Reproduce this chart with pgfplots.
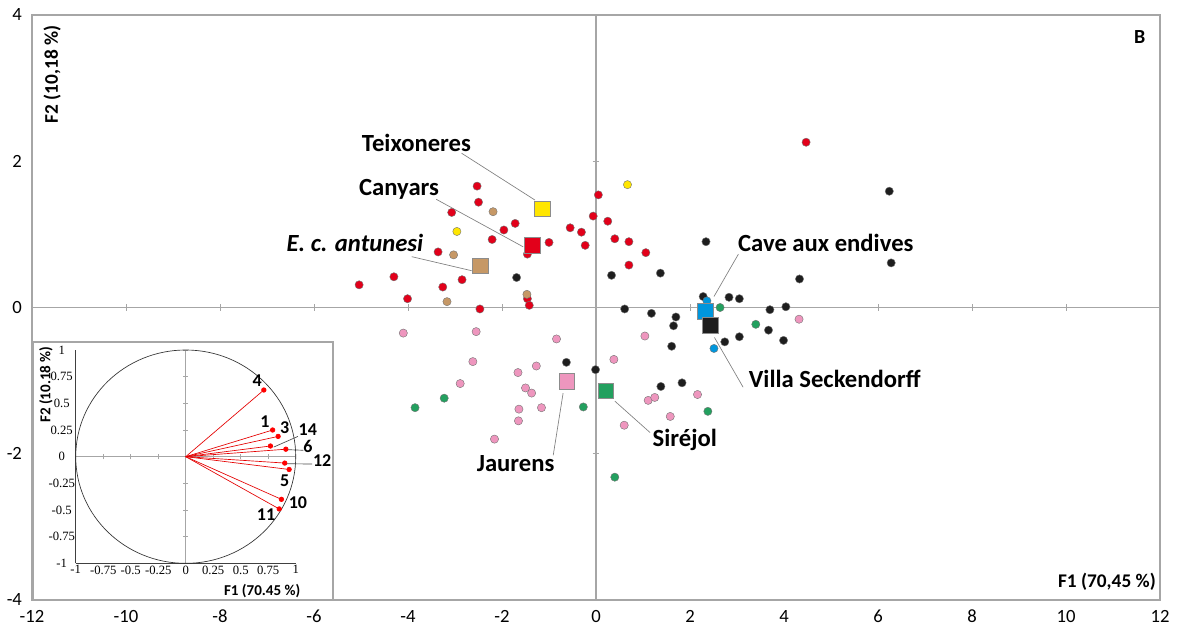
\documentclass[border=0pt]{standalone}
\usepackage{pgfplots}
\pgfplotsset{compat=1.18}
\usepackage{fontspec}
\setmainfont{Carlito}
\newfontfamily\serifnum{Liberation Serif}

\definecolor{cRed}{RGB}{226,0,26}
\definecolor{cBrown}{RGB}{198,152,102}
\definecolor{cYellow}{RGB}{255,230,0}
\definecolor{cPink}{RGB}{238,150,190}
\definecolor{cGreen}{RGB}{35,160,95}
\definecolor{cBlue}{RGB}{0,150,220}
\definecolor{cBlack}{RGB}{30,30,30}
\definecolor{cFrame}{RGB}{166,166,166}

\pgfplotsset{
  mainax/.style={scale only axis, width=846pt, height=438.75pt,
    xmin=-12, xmax=12, ymin=-4, ymax=4, at={(0pt,0pt)}, anchor=south west},
  insetax/.style={scale only axis, width=165pt, height=160pt,
    xmin=-1, xmax=1, ymin=-1, ymax=1, at={(32.8pt,27.5pt)}, anchor=south west},
  dot/.style={only marks, mark=*, mark size=3.1pt, mark options={fill=#1, draw=black!55, line width=0.3pt}},
  sq/.style={only marks, mark=square*, mark size=5.9pt, mark options={fill=#1, draw=black!45, line width=0.6pt}},
  vec/.style={red!90!black, line width=0.5pt, mark=*, mark size=1.7pt, mark indices={2}, mark options={fill=red, draw=red}},
}

\begin{document}
\begin{tikzpicture}
% zero lines of main chart
\begin{axis}[mainax, axis lines=middle, axis line style={-, draw=cFrame, line width=1pt},
  xtick={-12,-10,...,12}, ytick={-4,-2,...,4}, xticklabels={}, yticklabels={},
  major tick length=5pt, tick align=center, tick style={draw=cFrame, line width=0.7pt}]
\end{axis}
% main chart
\begin{axis}[mainax, axis line style={draw=cFrame, line width=1.1pt},
  xtick={-12,-10,...,12}, xticklabels={-12,-10,-8,-6,-4,-2,0,2,4,6,8,10,12},
  ytick={-4,-2,0,2,4}, yticklabels={-4,-2,0,2,4},
  major tick length=0pt,
  tick label style={font=\fontsize{14}{16}\selectfont},
  xticklabel style={yshift=-4pt}, yticklabel style={xshift=-4pt},
  clip=false]
% red
\addplot[dot=cRed] coordinates {
(-2.53,1.66) (-2.50,1.44) (-3.07,1.30) (-1.72,1.15) (-1.96,1.06) (-2.21,0.93)
(-3.36,0.76) (-1.00,0.89) (-1.46,0.73) (-5.04,0.31) (-4.30,0.42) (-4.01,0.12)
(-3.26,0.28) (-2.85,0.38) (-1.46,0.12) (-1.42,0.03) (-2.47,-0.02) (0.05,1.54)
(-0.06,1.25) (-0.55,1.09) (-0.31,1.03) (-0.23,0.85) (0.25,1.18) (0.40,0.94)
(0.70,0.90) (1.06,0.75) (0.70,0.58) (4.47,2.26)};
% brown
\addplot[dot=cBrown] coordinates {(-2.19,1.31) (-3.03,0.72) (-3.17,0.08) (-1.47,0.18)};
% yellow
\addplot[dot=cYellow] coordinates {(-2.96,1.04) (0.67,1.68)};
% black
\addplot[dot=cBlack] coordinates {
(-1.69,0.41) (0.33,0.44) (0.61,-0.02) (1.18,-0.08) (1.37,0.47) (2.34,0.90)
(6.24,1.59) (6.28,0.61) (4.33,0.39) (2.28,0.15) (2.83,0.14) (3.05,0.12)
(3.70,-0.03) (4.04,0.01) (1.70,-0.13) (1.65,-0.25) (3.67,-0.31) (1.61,-0.53)
(2.74,-0.47) (3.05,-0.40) (3.99,-0.45) (-0.63,-0.75) (-0.01,-0.85) (1.38,-1.08)
(1.83,-1.03)};
% blue
\addplot[dot=cBlue] coordinates {(2.36,0.09) (2.51,-0.56)};
% green
\addplot[dot=cGreen] coordinates {(2.64,0.00) (3.40,-0.23) (2.38,-1.42) (0.40,-2.32) (-3.23,-1.24) (-3.85,-1.37) (-0.27,-1.36)};
% pink
\addplot[dot=cPink] coordinates {
(-4.10,-0.35) (-2.55,-0.33) (-0.84,-0.43) (1.04,-0.39) (4.32,-0.16) (0.38,-0.71)
(1.11,-1.27) (1.25,-1.23) (2.16,-1.19) (1.58,-1.49) (0.60,-1.61) (-2.62,-0.74)
(-1.66,-0.89) (-1.27,-0.80) (-2.89,-1.04) (-1.50,-1.10) (-1.37,-1.17) (-1.64,-1.39)
(-1.16,-1.37) (-1.65,-1.55) (-2.16,-1.80)};
% centroids
\addplot[sq=cYellow] coordinates {(-1.14,1.35)};
\addplot[sq=cRed] coordinates {(-1.36,0.85)};
\addplot[sq=cBrown] coordinates {(-2.46,0.57)};
\addplot[sq=cPink] coordinates {(-0.62,-1.01)};
\addplot[sq=cGreen] coordinates {(0.21,-1.14)};
\addplot[sq=cBlue] coordinates {(2.32,-0.05)};
\addplot[sq=cBlack] coordinates {(2.44,-0.24)};
% leader lines
\draw[gray, line width=0.5pt] (axis cs:-2.86,2.11) -- (axis cs:-1.30,1.47);
\draw[gray, line width=0.5pt] (axis cs:-3.40,1.48) -- (axis cs:-1.55,0.83);
\draw[gray, line width=0.5pt] (axis cs:-3.92,0.695) -- (axis cs:-2.645,0.503);
\draw[gray, line width=0.5pt] (axis cs:3.03,0.73) -- (axis cs:2.51,0.15);
\draw[gray, line width=0.5pt] (axis cs:2.52,-0.41) -- (axis cs:3.13,-1.09);
\draw[gray, line width=0.5pt] (axis cs:0.40,-1.28) -- (axis cs:1.15,-1.71);
\draw[gray, line width=0.5pt] (axis cs:-0.70,-1.17) -- (axis cs:-0.91,-2.02);
% group labels
\begin{scope}[every node/.style={font=\fontsize{18.5}{20}\selectfont\bfseries, inner sep=0pt}]
\node at (axis cs:-3.82,2.25) {Teixoneres};
\node at (axis cs:-4.19,1.62) {Canyars};
\node at (axis cs:-5.13,0.88) {\itshape E. c. antunesi};
\node at (axis cs:4.89,0.88) {Cave aux endives};
\node at (axis cs:5.08,-0.98) {Villa Seckendorff};
\node at (axis cs:1.89,-1.81) {Siréjol};
\node at (axis cs:-1.71,-2.13) {Jaurens};
\end{scope}
\node[rotate=90, font=\fontsize{14.5}{16}\selectfont\bfseries, inner sep=0pt] at (axis cs:-11.57,3.19) {F2 (10,18 \%)};
\node[font=\fontsize{14.5}{16}\selectfont\bfseries, inner sep=0pt] at (axis cs:10.87,-3.755) {F1 (70,45 \%)};
\node[font=\fontsize{15}{16}\selectfont\bfseries, inner sep=0pt] at (axis cs:11.57,3.70) {B};
\end{axis}

% inset frame
\filldraw[fill=white, draw=cFrame, line width=1pt] (0.75pt,0pt) rectangle (225.75pt,193.5pt);
% inset middle lines
\begin{axis}[insetax, axis lines=middle, axis line style={-, draw=cFrame, line width=0.8pt},
  xtick={-1,-0.75,...,1}, ytick={-1,-0.75,...,1}, xticklabels={}, yticklabels={},
  major tick length=4pt, tick align=center, tick style={draw=cFrame, line width=0.6pt}]
\end{axis}
% inset main
\begin{axis}[insetax, axis lines=left, axis line style={-, draw=black!75, line width=0.6pt},
  xtick={-1,-0.75,-0.5,-0.25,0,0.25,0.5,0.75,1},
  xticklabels={-1,-0.75,-0.5,-0.25,0,0.25,0.5,0.75,1},
  ytick={-1,-0.75,-0.5,-0.25,0,0.25,0.5,0.75,1},
  yticklabels={-1,-0.75,-0.5,-0.25,0,0.25,0.5,0.75,1},
  major tick length=0pt,
  tick label style={font=\serifnum\fontsize{9.5}{10}\selectfont, inner sep=1.5pt},
  yticklabel style={anchor=center, xshift=-10.5pt},
  clip=false]
\draw[black!80, line width=0.5pt] (axis cs:0,0) ellipse [x radius=1, y radius=1];
\addplot[vec] coordinates {(0,0) (0.71,0.625)};
\addplot[vec] coordinates {(0,0) (0.79,0.25)};
\addplot[vec] coordinates {(0,0) (0.84,0.19)};
\addplot[vec] coordinates {(0,0) (0.77,0.10)};
\addplot[vec] coordinates {(0,0) (0.91,0.07)};
\addplot[vec] coordinates {(0,0) (0.90,-0.06)};
\addplot[vec] coordinates {(0,0) (0.94,-0.12)};
\addplot[vec] coordinates {(0,0) (0.87,-0.40)};
\addplot[vec] coordinates {(0,0) (0.85,-0.49)};
\draw[black!70, line width=0.5pt] (axis cs:0.80,0.09) -- (axis cs:1.02,0.19);
\draw[black!70, line width=0.5pt] (axis cs:0.915,0.066) -- (axis cs:1.07,0.06);
\draw[black!70, line width=0.5pt] (axis cs:0.915,-0.066) -- (axis cs:1.15,-0.069);
\begin{scope}[every node/.style={font=\fontsize{13.5}{14}\selectfont\bfseries, inner sep=0pt}]
\node at (axis cs:0.65,0.71) {4};
\node at (axis cs:0.72,0.33) {1};
\node at (axis cs:0.90,0.27) {3};
\node at (axis cs:1.11,0.25) {14};
\node at (axis cs:1.11,0.10) {6};
\node at (axis cs:1.24,-0.04) {12};
\node at (axis cs:0.90,-0.23) {5};
\node at (axis cs:1.02,-0.43) {10};
\node at (axis cs:0.73,-0.54) {11};
\end{scope}
\node[rotate=90, font=\fontsize{11.3}{12}\selectfont\bfseries, inner sep=0pt] at (axis cs:-1.27,0.675) {F2 (10.18 \%)};
\node[font=\fontsize{11.3}{12}\selectfont\bfseries, inner sep=0pt] at (axis cs:0.695,-1.256) {F1 (70.45 \%)};
\end{axis}

\pgfresetboundingbox
\useasboundingbox (-24pt,-21.75pt) rectangle (858.75pt,450pt);
\end{tikzpicture}
\end{document}
